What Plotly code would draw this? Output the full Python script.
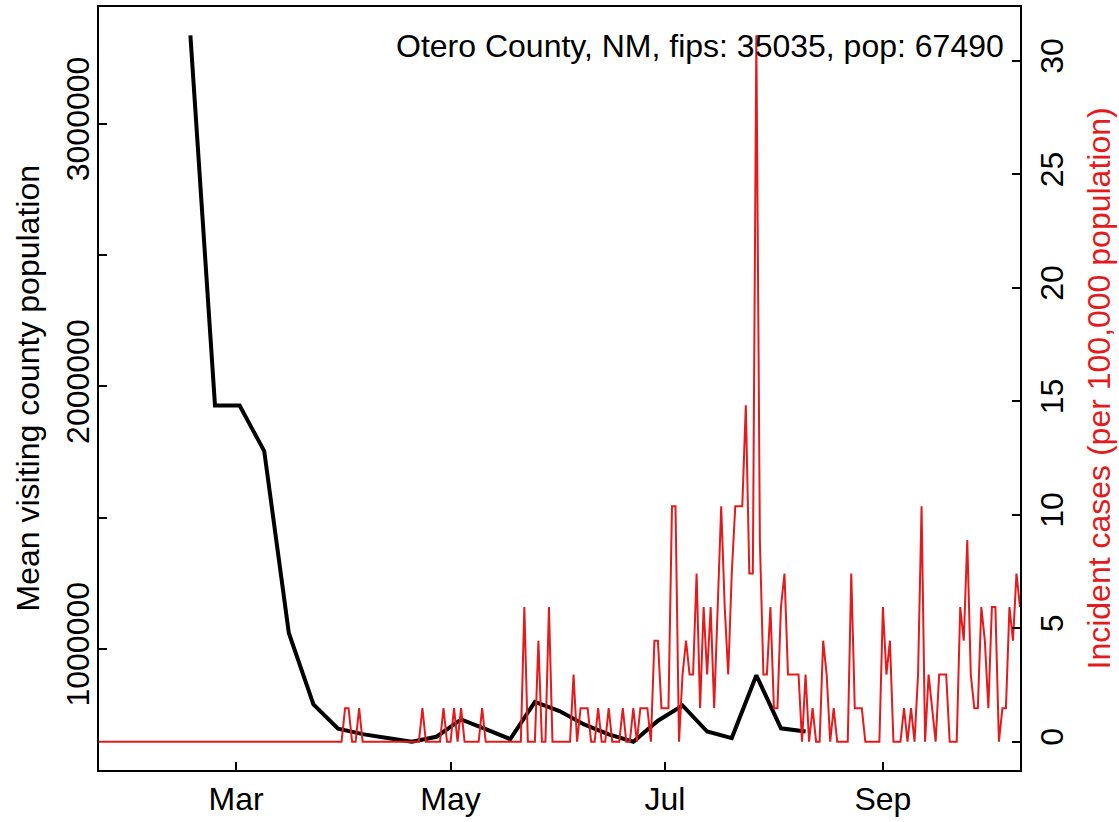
import pandas as pd
import plotly.graph_objects as go

# ---- data ----
title_text = "Otero County, NM, fips: 35035, pop: 67490"

# weekly mean visiting county population (Mondays from 2020-02-17)
visit_start = "2020-02-17"
visit_pop = [3337000, 1927000, 1927000, 1754000, 1061000, 789000, 697000, 676000,
             661000, 647000, 666000, 732000, 695000, 657000, 799000, 764000,
             713000, 675000, 647000, 727000, 785000, 686000, 661000, 900000,
             698000, 686000]

# daily incident cases per 100,000 population (from 2020-01-22)
cases_start = "2020-01-22"
cases_rate = [
    0, 0, 0, 0, 0, 0, 0, 0, 0, 0,
    0, 0, 0, 0, 0, 0, 0, 0, 0, 0,
    0, 0, 0, 0, 0, 0, 0, 0, 0, 0,
    0, 0, 0, 0, 0, 0, 0, 0, 0, 0,
    0, 0, 0, 0, 0, 0, 0, 0, 0, 0,
    0, 0, 0, 0, 0, 0, 0, 0, 0, 0,
    0, 0, 0, 0, 0, 0, 0, 0, 0, 0,
    1.48, 1.48, 0, 0, 1.48, 0, 0, 0, 0, 0,
    0, 0, 0, 0, 0, 0, 0, 0, 0, 0,
    0, 0, 1.48, 0, 0, 0, 0, 0, 1.48, 0,
    0, 1.48, 0, 1.48, 0, 0, 0, 0, 0, 1.48,
    0, 0, 0, 0, 0, 0, 0, 0, 0, 0,
    0, 5.93, 0, 0, 0, 4.45, 0, 0, 5.93, 0,
    0, 0, 0, 0, 0, 2.96, 0, 1.48, 1.48, 1.48,
    0, 0, 1.48, 0, 0, 1.48, 0, 0, 0, 1.48,
    0, 0, 1.48, 0, 1.48, 1.48, 1.48, 0, 4.45, 4.45,
    1.48, 1.48, 1.48, 10.37, 10.37, 0, 2.96, 4.45, 2.96, 2.96,
    7.41, 1.48, 5.93, 2.96, 5.93, 1.48, 5.93, 10.37, 5.93, 2.96,
    7.41, 10.37, 10.37, 10.37, 14.82, 7.41, 7.41, 31.12, 8.89, 2.96,
    2.96, 5.93, 1.48, 1.48, 5.93, 7.41, 2.96, 2.96, 2.96, 2.96,
    0, 2.96, 0, 1.48, 0, 0, 4.45, 2.96, 0, 1.48,
    0, 0, 0, 0, 7.41, 1.48, 1.48, 1.48, 0, 0,
    0, 0, 0, 5.93, 2.96, 4.45, 0, 0, 0, 1.48,
    0, 1.48, 0, 2.96, 10.37, 0, 2.96, 1.48, 0, 2.96,
    2.96, 2.96, 0, 0, 0, 5.93, 4.45, 8.89, 2.96, 1.48,
    1.48, 5.93, 4.45, 1.48, 5.93, 5.93, 0, 1.48, 1.48, 5.93,
    4.45, 7.41, 5.93,
]

x_tick_vals = ["2020-03-01", "2020-05-01", "2020-07-01", "2020-09-01"]
x_tick_text = ["Mar", "May", "Jul", "Sep"]
left_tick_vals = [1000000, 1500000, 2000000, 2500000, 3000000]
left_tick_text = ["1000000", "", "2000000", "", "3000000"]
right_tick_vals = [0, 5, 10, 15, 20, 25, 30]

visit_dates = pd.date_range(visit_start, periods=len(visit_pop), freq="7D")
cases_dates = pd.date_range(cases_start, periods=len(cases_rate), freq="D")

RED = "#E41A1C"
FONT = "Liberation Sans, Arial, sans-serif"
FS = 32

fig = go.Figure()
fig.add_trace(go.Scatter(x=visit_dates, y=visit_pop, mode="lines",
                         line=dict(color="black", width=4), yaxis="y",
                         showlegend=False))
fig.add_trace(go.Scatter(x=cases_dates, y=cases_rate, mode="lines",
                         line=dict(color=RED, width=2), yaxis="y2",
                         showlegend=False))

ymin, ymax = min(visit_pop), max(visit_pop)
pad = 0.04 * (ymax - ymin)
rmin, rmax = min(cases_rate), max(cases_rate)
rpad = 0.04 * (rmax - rmin)

fig.update_layout(
    width=1119, height=822,
    margin=dict(l=99, r=99, t=5, b=49),
    plot_bgcolor="white", paper_bgcolor="white",
    font=dict(family=FONT, size=FS, color="black"),
    xaxis=dict(type="date", range=["2020-01-22", "2020-10-10"],
               tickvals=x_tick_vals, ticktext=x_tick_text,
               ticks="inside", ticklen=8, tickwidth=2, tickcolor="black",
               showline=True, linewidth=2, linecolor="black", mirror=True,
               showgrid=False, zeroline=False,
               tickfont=dict(size=FS, color="black")),
    yaxis=dict(range=[ymin - pad, ymax + pad],
               tickvals=left_tick_vals, ticktext=left_tick_text,
               tickangle=-90, ticklabelstandoff=-5,
               ticks="inside", ticklen=8, tickwidth=2, tickcolor="black",
               showline=True, linewidth=2, linecolor="black",
               showgrid=False, zeroline=False,
               tickfont=dict(size=FS, color="black")),
    yaxis2=dict(range=[rmin - rpad, rmax + rpad], overlaying="y", side="right",
                tickvals=right_tick_vals, tickangle=-90, ticklabelstandoff=3,
                ticks="inside", ticklen=8, tickwidth=2, tickcolor="black",
                showline=True, linewidth=2, linecolor="black",
                showgrid=False, zeroline=False,
                tickfont=dict(size=FS, color="black")),
    annotations=[
        dict(text=title_text, xref="paper", yref="paper",
             x=(1006 - 99) / 921, y=1 - (44 - 5) / 768,
             xanchor="right", yanchor="middle", showarrow=False,
             font=dict(size=FS, color="black", family=FONT)),
        dict(text="Mean visiting county population", xref="paper", yref="paper",
             x=(27 - 99) / 921, y=0.5, textangle=-90,
             xanchor="center", yanchor="middle", showarrow=False,
             font=dict(size=FS, color="black", family=FONT)),
        dict(text="Incident cases (per 100,000 population)", xref="paper", yref="paper",
             x=(1098 - 99) / 921, y=0.5, textangle=-90,
             xanchor="center", yanchor="middle", showarrow=False,
             font=dict(size=FS, color=RED, family=FONT)),
    ],
)

fig.write_html("out.html", config={"displayModeBar": False},
               post_script="document.body.style.margin='0';document.body.style.overflow='hidden';")
